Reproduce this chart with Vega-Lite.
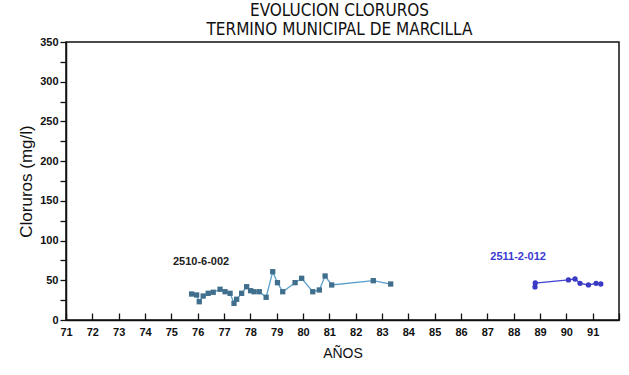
{
  "$schema": "https://vega.github.io/schema/vega-lite/v6.json",
  "width": 553,
  "height": 278,
  "autosize": {"type": "none"},
  "padding": {"left": 66, "top": 42, "right": 10, "bottom": 55},
  "background": "white",
  "title": {
    "text": ["EVOLUCION  CLORUROS", "TERMINO MUNICIPAL DE MARCILLA"],
    "font": "Liberation Sans Narrow, DejaVu Sans Condensed, sans-serif",
    "fontSize": 17,
    "fontWeight": "normal",
    "lineHeight": 19,
    "offset": -3,
    "dx": -3,
    "color": "#111"
  },
  "config": {
    "view": {"stroke": "#111", "strokeWidth": 1.5},
    "axis": {
      "grid": false,
      "labelOverlap": false,
      "domainColor": "#111",
      "domainWidth": 1.5,
      "tickColor": "#111",
      "tickWidth": 1.3,
      "labelFont": "Liberation Sans, Arial, sans-serif",
      "labelFontWeight": "bold",
      "labelFontSize": 11,
      "labelColor": "#111",
      "titleFont": "Liberation Sans, Arial, sans-serif",
      "titleFontWeight": "normal",
      "titleColor": "#111"
    }
  },
  "datasets": {
    "obs": [
      {"serie": "2510-6-002", "year": 75.77, "cl": 32.7},
      {"serie": "2510-6-002", "year": 75.96, "cl": 31.5},
      {"serie": "2510-6-002", "year": 76.06, "cl": 23.0},
      {"serie": "2510-6-002", "year": 76.21, "cl": 30.2},
      {"serie": "2510-6-002", "year": 76.40, "cl": 33.6},
      {"serie": "2510-6-002", "year": 76.59, "cl": 34.9},
      {"serie": "2510-6-002", "year": 76.85, "cl": 38.7},
      {"serie": "2510-6-002", "year": 77.04, "cl": 35.6},
      {"serie": "2510-6-002", "year": 77.23, "cl": 33.6},
      {"serie": "2510-6-002", "year": 77.38, "cl": 21.0},
      {"serie": "2510-6-002", "year": 77.48, "cl": 26.1},
      {"serie": "2510-6-002", "year": 77.67, "cl": 33.6},
      {"serie": "2510-6-002", "year": 77.86, "cl": 41.9},
      {"serie": "2510-6-002", "year": 78.01, "cl": 36.9},
      {"serie": "2510-6-002", "year": 78.14, "cl": 35.6},
      {"serie": "2510-6-002", "year": 78.34, "cl": 35.6},
      {"serie": "2510-6-002", "year": 78.60, "cl": 28.6},
      {"serie": "2510-6-002", "year": 78.85, "cl": 60.8},
      {"serie": "2510-6-002", "year": 79.03, "cl": 47.0},
      {"serie": "2510-6-002", "year": 79.23, "cl": 35.6},
      {"serie": "2510-6-002", "year": 79.70, "cl": 47.0},
      {"serie": "2510-6-002", "year": 79.95, "cl": 52.5},
      {"serie": "2510-6-002", "year": 80.37, "cl": 35.6},
      {"serie": "2510-6-002", "year": 80.62, "cl": 37.8},
      {"serie": "2510-6-002", "year": 80.84, "cl": 55.4},
      {"serie": "2510-6-002", "year": 81.09, "cl": 44.1},
      {"serie": "2510-6-002", "year": 82.67, "cl": 49.5},
      {"serie": "2510-6-002", "year": 83.33, "cl": 45.3},
      {"serie": "2511-2-012", "year": 88.81, "cl": 41.6},
      {"serie": "2511-2-012", "year": 88.82, "cl": 46.6},
      {"serie": "2511-2-012", "year": 90.08, "cl": 50.4},
      {"serie": "2511-2-012", "year": 90.33, "cl": 51.6},
      {"serie": "2511-2-012", "year": 90.52, "cl": 46.2},
      {"serie": "2511-2-012", "year": 90.84, "cl": 44.1},
      {"serie": "2511-2-012", "year": 91.13, "cl": 46.2},
      {"serie": "2511-2-012", "year": 91.31, "cl": 45.3}
    ],
    "labels": [
      {"serie": "2510-6-002", "year": 76.13, "cl": 73},
      {"serie": "2511-2-012", "year": 88.17, "cl": 79}
    ]
  },
  "encoding": {
    "x": {
      "field": "year", "type": "quantitative",
      "scale": {"domain": [71, 92], "nice": false, "zero": false},
      "axis": {
        "title": "AÑOS",
        "titleFontSize": 14,
        "titlePadding": 9,
        "values": [71,72,73,74,75,76,77,78,79,80,81,82,83,84,85,86,87,88,89,90,91,92],
        "labelExpr": "datum.value > 91 ? '' : datum.label",
        "tickSize": -7,
        "labelPadding": 13,
        "labelDx": 9,
        "labelFlush": false,
        "labelOverlap": false
      }
    },
    "y": {
      "field": "cl", "type": "quantitative",
      "scale": {"domain": [0, 350], "nice": false},
      "axis": {
        "title": "Cloruros  (mg/l)",
        "titleFontSize": 17,
        "titlePadding": 4,
        "titleAnchor": "middle",
        "values": [0,25,50,75,100,125,150,175,200,225,250,275,300,325,350],
        "labelExpr": "datum.value % 50 == 0 ? datum.label : ''",
        "tickSize": 6,
        "labelPadding": 2,
        "labelFlush": false,
        "labelOverlap": false,
        "encode": {"title": {"update": {"y": {"value": 126}}}}
      }
    }
  },
  "layer": [
    {
      "data": {"name": "obs"},
      "mark": {"type": "line", "strokeWidth": 1.3},
      "encoding": {
        "detail": {"field": "serie"},
        "color": {
          "field": "serie", "type": "nominal",
          "scale": {"domain": ["2510-6-002", "2511-2-012"], "range": ["#5a9fcc", "#4444d0"]},
          "legend": null
        }
      }
    },
    {
      "data": {"name": "obs"},
      "mark": {"type": "point", "filled": true, "opacity": 1, "size": 28},
      "encoding": {
        "shape": {
          "field": "serie", "type": "nominal",
          "scale": {"domain": ["2510-6-002", "2511-2-012"], "range": ["square", "circle"]},
          "legend": null
        },
        "color": {
          "field": "serie", "type": "nominal",
          "scale": {"domain": ["2510-6-002", "2511-2-012"], "range": ["#3f6f8c", "#3a3ac4"]},
          "legend": null
        }
      }
    },
    {
      "data": {"name": "labels"},
      "mark": {"type": "text", "font": "Liberation Sans, Arial, sans-serif", "fontSize": 11, "fontWeight": "bold"},
      "encoding": {
        "text": {"field": "serie"},
        "color": {
          "field": "serie", "type": "nominal",
          "scale": {"domain": ["2510-6-002", "2511-2-012"], "range": ["#222222", "#3a3ad0"]},
          "legend": null
        }
      }
    }
  ],
  "resolve": {"scale": {"color": "independent"}}
}
